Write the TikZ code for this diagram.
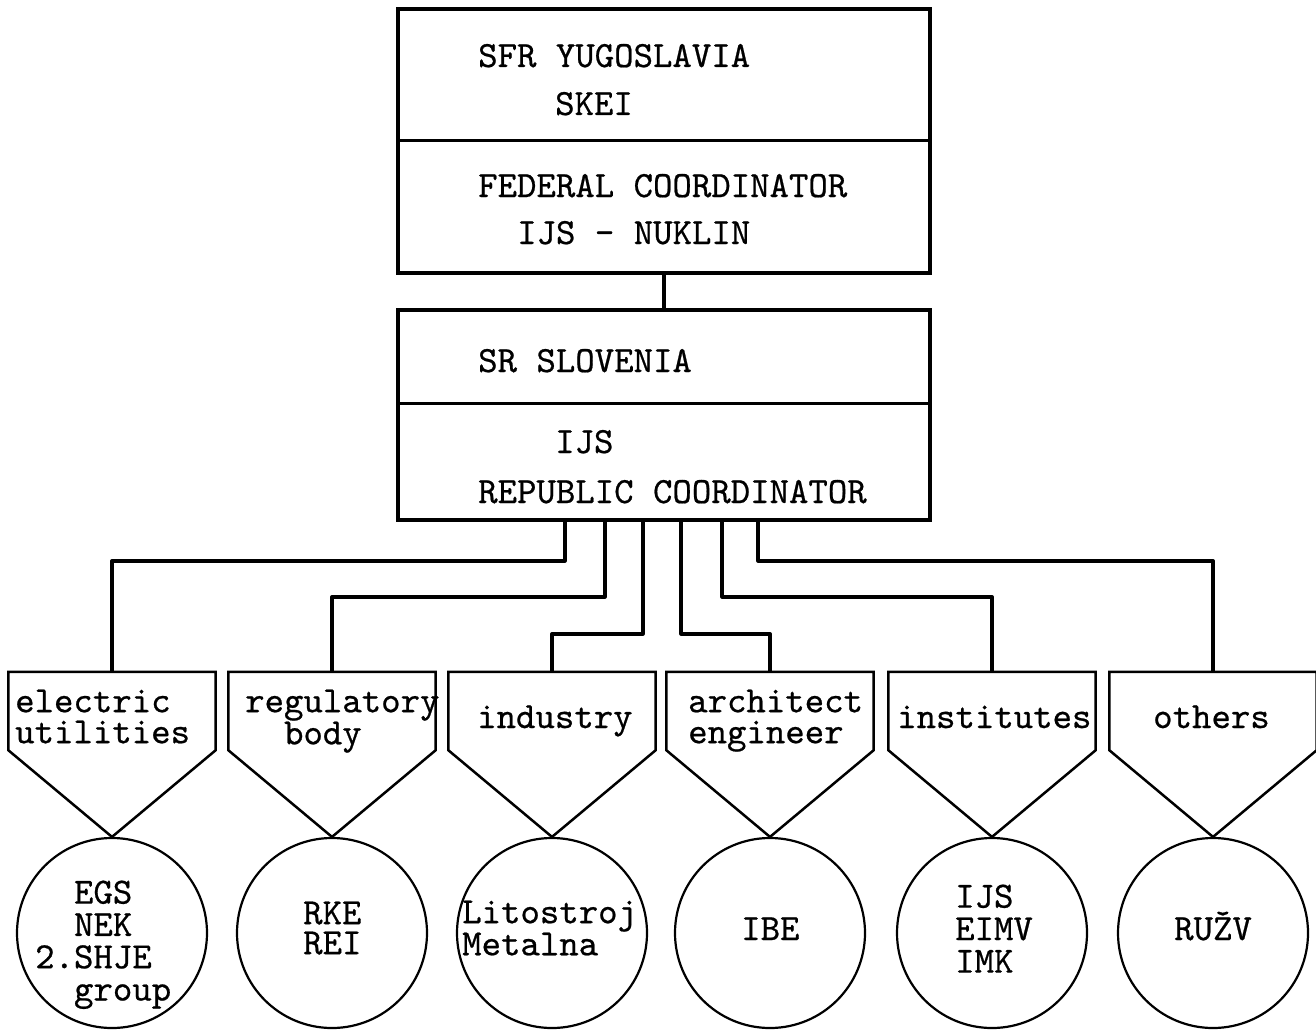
\documentclass[tikz,border=0pt]{standalone}
\usepackage{fontspec}
\newfontfamily\twfont{lmmono10-regular.otf}[FakeBold=0.6]
\begin{document}
\begin{tikzpicture}[x=1pt,y=-1pt,
  box/.style={draw, line width=3.5pt, minimum width=532pt, inner sep=0pt},
  divider/.style={line width=3pt},
  wire/.style={line width=3.5pt, line join=round},
  cat/.style={minimum width=207pt, minimum height=78pt, inner sep=0pt},
  pent/.style={line width=2.5pt, line join=miter},
  org/.style={draw, circle, minimum size=190pt, line width=2.2pt, inner sep=0pt},
  txt/.style={anchor=base west, inner sep=0pt, font=\fontsize{37}{40}\selectfont\twfont},
  multi/.style={anchor=north west, inner sep=0pt, align=left,
     font=\fontsize{37}{#1}\selectfont\twfont}]
\useasboundingbox (0,0) rectangle (1316,1030);

% coordinator boxes
\node[box, minimum height=264pt] (fed) at (664,141) {};
\node[box, minimum height=210pt] (rep) at (664,415) {};
\draw[divider] (fed.west |- 0,140) -- (fed.east |- 0,140);
\draw[divider] (rep.west |- 0,403) -- (rep.east |- 0,403);
\draw[wire] (fed.south) -- (rep.north);

\node[txt] (t1) at (478,67) {SFR YUGOSLAVIA};
\node[txt] (t2) at (555,115) {SKEI};
\node[txt] (t3) at (478,197) {FEDERAL COORDINATOR};
\node[txt] (t4) at (517,244) {IJS - NUKLIN};
\node[txt] (t5) at (478,372) {SR SLOVENIA};
\node[txt] (t6) at (555,453) {IJS};
\node[txt] (t7) at (478,503) {REPUBLIC COORDINATOR};

% categories and organisations
\foreach \i/\x in {1/112,2/332,3/552,4/770,5/992,6/1213}{
  \node[cat] (c\i) at (\x,711) {};
  \node[org] (o\i) at (\x,933) {};
  \draw[pent] (c\i.north west) -- (c\i.north east) -- (c\i.south east)
     -- (o\i.north) -- (c\i.south west) -- cycle;
}

% connectors
\draw[wire] ([xshift=-99pt]rep.south) -- ++(0,39)  -| (c1.north);
\draw[wire] ([xshift=-59pt]rep.south) -- ++(0,75)  -| (c2.north);
\draw[wire] ([xshift=-21pt]rep.south) -- ++(0,112) -| (c3.north);
\draw[wire] ([xshift=17pt]rep.south)  -- ++(0,112) -| (c4.north);
\draw[wire] ([xshift=58pt]rep.south)  -- ++(0,75)  -| (c5.north);
\draw[wire] ([xshift=94pt]rep.south)  -- ++(0,39)  -| (c6.north);

% category texts
\node[multi=31pt] (l1) at (15,689.4) {electric\\utilities};
\node[multi=31pt] (l2) at (245,689.4) {regulatory\\\phantom{re}body};
\node[txt] (l3) at (477,728) {industry};
\node[multi=31pt] (l4) at (688,689.4) {architect\\engineer};
\node[txt] (l5) at (897,728) {institutes};
\node[txt] (l6) at (1153,728) {others};

% organisation texts
\node[multi=32.3pt] (e1) at (35,880.4) {\phantom{2.}EGS\\\phantom{2.}NEK\\2.SHJE\\\phantom{2.}group};
\node[multi=30pt] (r1) at (303,901.4) {RKE\\REI};
\node[multi=31pt] (m1) at (462,900.4) {Litostroj\\Metalna};
\node[txt] (i1) at (741,940) {IBE};
\node[multi=32.5pt] (s1) at (955,884.4) {IJS\\EIMV\\IMK};
\node[txt] (u1) at (1174,940) {RUŽV};
\end{tikzpicture}
\end{document}
